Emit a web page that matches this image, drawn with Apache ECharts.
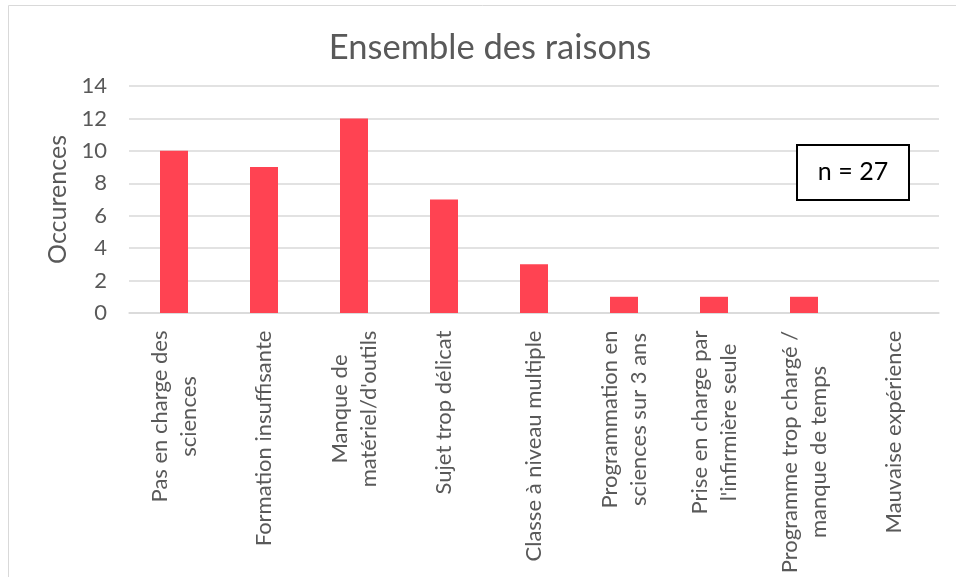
<!DOCTYPE html>
<html>
<head>
<meta charset="utf-8">
<script src="https://cdn.jsdelivr.net/npm/echarts@6/dist/echarts.min.js"></script>
<style>
  html, body { margin: 0; padding: 0; background: #fff; }
  #chart { width: 956px; height: 577px; }
</style>
</head>
<body>
<div id="chart"></div>
<script>
const categories = [
  'Pas en charge des\nsciences',
  'Formation insuffisante',
  'Manque de\nmatériel/d\'outils',
  'Sujet trop délicat',
  'Classe à niveau multiple',
  'Programmation en\nsciences sur 3 ans',
  'Prise en charge par\nl\'infirmière seule',
  'Programme trop chargé /\nmanque de temps',
  'Mauvaise expérience'
]
const occurrences = [10, 9, 12, 7, 3, 1, 1, 1, 0]
const yTicks = { min: 0, max: 14, interval: 2 }
const sampleNote = 'n = 27'

const FONT = 'Lato'
const TEXT = '#595959'
const LABEL_SIZE = 22

// mesure la ligne la plus longue de chaque étiquette pour centrer les lignes entre elles
const ctx = document.createElement('canvas').getContext('2d')
ctx.font = LABEL_SIZE + 'px ' + FONT
const rich = {}
categories.forEach((c, i) => {
  const w = Math.max(...c.split('\n').map(l => ctx.measureText(l).width))
  rich['c' + i] = {
    width: Math.ceil(w) + 1,
    align: 'center',
    fontSize: LABEL_SIZE,
    fontFamily: FONT,
    color: TEXT,
    lineHeight: 29
  }
})

const chart = echarts.init(document.getElementById('chart'))
chart.setOption({
  animation: false,
  title: {
    text: 'Ensemble des raisons',
    left: 485,
    textAlign: 'center',
    top: 25,
    textStyle: { fontFamily: FONT, fontSize: 34.5, fontWeight: 'normal', color: TEXT }
  },
  grid: { left: 129, right: 17, top: 86, bottom: 263 },
  xAxis: {
    type: 'category',
    data: categories,
    axisLine: { lineStyle: { color: '#D9D9D9', width: 1.5 } },
    axisTick: { show: false },
    axisLabel: {
      rotate: 90,
      interval: 0,
      margin: 17,
      formatter: (v, i) => v.split('\n').map(l => '{c' + i + '|' + l + '}').join('\n'),
      rich
    }
  },
  yAxis: {
    type: 'value',
    min: yTicks.min,
    max: yTicks.max,
    interval: yTicks.interval,
    name: 'Occurences',
    nameLocation: 'middle',
    nameGap: 57,
    nameTextStyle: { fontFamily: FONT, fontSize: 25, color: TEXT },
    axisLine: { show: false },
    axisTick: { show: false },
    axisLabel: { fontFamily: FONT, fontSize: 22, color: TEXT, margin: 22 },
    splitLine: { lineStyle: { color: '#D9D9D9', width: 1.5 } }
  },
  series: [{
    type: 'bar',
    data: occurrences,
    barWidth: 28,
    itemStyle: { color: '#FF4352' }
  }],
  graphic: [
    {
      type: 'rect',
      shape: { x: 8.5, y: 5.5, width: 1200, height: 1200 },
      style: { fill: 'none', stroke: '#D9D9D9', lineWidth: 1 },
      silent: true
    },
    {
      type: 'rect',
      shape: { x: 797, y: 145, width: 112, height: 55 },
      style: { fill: '#fff', stroke: '#000', lineWidth: 2 },
      z: 10
    },
    {
      type: 'text',
      x: 853,
      y: 172,
      style: {
        text: sampleNote,
        fontFamily: FONT,
        fontSize: 25,
        fill: '#000',
        align: 'center',
        verticalAlign: 'middle'
      },
      z: 11
    }
  ]
})
</script>
</body>
</html>
